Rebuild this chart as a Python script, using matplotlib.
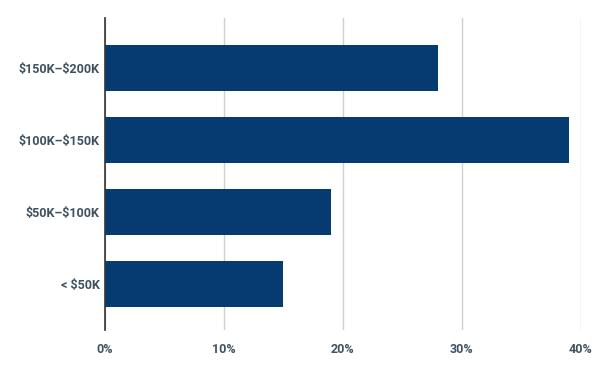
import matplotlib

matplotlib.use("Agg")
import matplotlib.pyplot as plt

plt.rcParams["font.family"] = ["Roboto", "DejaVu Sans"]
plt.rcParams["text.parse_math"] = False

categories = ["< $50K", "$50K–$100K", "$100K–$150K", "$150K–$200K"]
shares = [15, 19, 39, 28]
ticks = [0, 10, 20, 30, 40]
tick_labels = ["0%", "10%", "20%", "30%", "40%"]

bar_color = "#053b70"
text_color = "#3f5261"

fig = plt.figure(figsize=(6, 3.71), dpi=100)
ax = fig.add_axes([0.175, 0.1105, 0.793, 0.841])

ax.barh(range(len(categories)), shares, height=0.64, color=bar_color, zorder=3)

ax.set_xlim(0, 40)
ax.set_ylim(-0.64, 3.69)
ax.set_xticks(ticks)
ax.set_xticklabels(tick_labels)
ax.set_yticks(range(len(categories)))
ax.set_yticklabels(categories)

ax.grid(True, axis="x", color="#d0d0d0", linewidth=1, zorder=0)
ax.tick_params(length=0, labelcolor=text_color, labelsize=9)
ax.tick_params(axis="x", pad=9)
ax.tick_params(axis="y", pad=4)
for lbl in ax.get_xticklabels() + ax.get_yticklabels():
    lbl.set_fontweight("bold")

for side in ["top", "right", "bottom"]:
    ax.spines[side].set_visible(False)
ax.spines["left"].set_color("#333333")
ax.spines["left"].set_linewidth(1.2)
ax.spines["left"].set_zorder(4)

fig.savefig("out.png", dpi=100)
